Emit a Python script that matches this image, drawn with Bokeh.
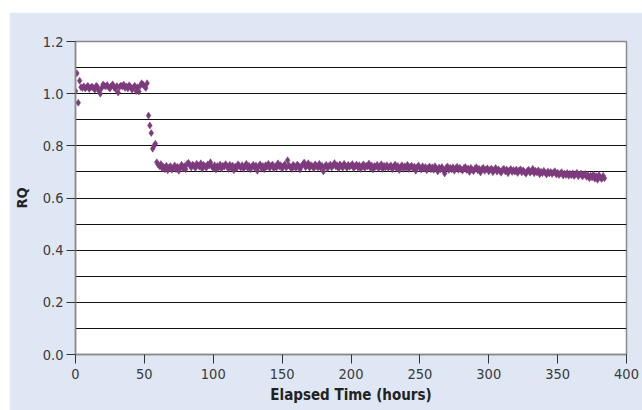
from bokeh.plotting import figure
from bokeh.models import FixedTicker, PrintfTickFormatter, Spacer, ColumnDataSource, Title
from bokeh.layouts import column, row
from bokeh.embed import file_html
from bokeh.resources import INLINE

# RQ readings, one per elapsed hour (0..384)
rq = [
    1.010, 1.078, 0.965, 1.050, 1.025,
    1.022, 1.028, 1.020, 1.025, 1.030, 1.018, 1.024, 1.027, 1.021, 1.015,
    1.030, 1.026, 1.010, 1.000, 1.022, 1.035, 1.030, 1.028, 1.033, 1.025,
    1.020, 1.030, 1.036, 1.024, 1.018, 1.029, 1.004, 1.026, 1.031, 1.027,
    1.035, 1.022, 1.028, 1.020, 1.032, 1.026, 1.015, 1.024, 1.030, 1.010,
    1.025, 1.008, 1.030, 1.040, 1.035, 1.028, 1.022, 1.040,
    0.916, 0.878, 0.849, 0.789, 0.800, 0.808,
    0.737, 0.728, 0.722, 0.730, 0.713, 0.720, 0.710, 0.724, 0.706, 0.718,
    0.722, 0.708, 0.716, 0.725, 0.711, 0.720, 0.704, 0.718, 0.727, 0.713,
    0.722, 0.710, 0.730, 0.735, 0.726, 0.717, 0.728, 0.724, 0.715, 0.731,
    0.725, 0.720, 0.733, 0.712, 0.727, 0.722, 0.716, 0.729, 0.724, 0.737,
    0.721, 0.714, 0.726, 0.709, 0.723, 0.717, 0.728, 0.713, 0.724, 0.720,
    0.730, 0.722, 0.711, 0.727, 0.716, 0.725, 0.706, 0.721, 0.714, 0.729,
    0.723, 0.717, 0.726, 0.712, 0.722, 0.731, 0.715, 0.724, 0.710, 0.720,
    0.727, 0.716, 0.725, 0.704, 0.722, 0.729, 0.714, 0.723, 0.710, 0.726,
    0.720, 0.731, 0.715, 0.724, 0.728, 0.713, 0.722, 0.717, 0.733, 0.721,
    0.726, 0.712, 0.723, 0.729, 0.716, 0.745, 0.725, 0.718, 0.711, 0.727,
    0.722, 0.714, 0.728, 0.724, 0.709, 0.721, 0.729, 0.736, 0.718, 0.725,
    0.733, 0.716, 0.726, 0.722, 0.713, 0.729, 0.723, 0.717, 0.731, 0.715,
    0.724, 0.702, 0.720, 0.727, 0.714, 0.723, 0.728, 0.717, 0.725, 0.734,
    0.721, 0.726, 0.713, 0.729, 0.722, 0.716, 0.731, 0.724, 0.715, 0.727,
    0.720, 0.725, 0.730, 0.714, 0.723, 0.728, 0.717, 0.726, 0.711, 0.722,
    0.729, 0.715, 0.724, 0.721, 0.732, 0.716, 0.725, 0.709, 0.723, 0.720,
    0.727, 0.714, 0.722, 0.729, 0.711, 0.724, 0.717, 0.726, 0.715, 0.721,
    0.725, 0.710, 0.720, 0.728, 0.714, 0.723, 0.707, 0.719, 0.726, 0.712,
    0.722, 0.716, 0.727, 0.711, 0.720, 0.724, 0.713, 0.721, 0.704, 0.718,
    0.725, 0.715, 0.709, 0.722, 0.712, 0.719, 0.706, 0.716, 0.721, 0.710,
    0.718, 0.708, 0.722, 0.713, 0.702, 0.717, 0.710, 0.719, 0.706, 0.694,
    0.715, 0.721, 0.707, 0.716, 0.710, 0.718, 0.704, 0.714, 0.720, 0.708,
    0.716, 0.709, 0.705, 0.715, 0.719, 0.707, 0.713, 0.700, 0.716, 0.708,
    0.703, 0.713, 0.718, 0.706, 0.712, 0.698, 0.711, 0.716, 0.704, 0.710,
    0.714, 0.702, 0.709, 0.713, 0.699, 0.708, 0.715, 0.701, 0.710, 0.704,
    0.697, 0.708, 0.712, 0.702, 0.709, 0.695, 0.706, 0.711, 0.700, 0.707,
    0.701, 0.709, 0.696, 0.705, 0.710, 0.698, 0.706, 0.700, 0.693, 0.704,
    0.708, 0.697, 0.703, 0.712, 0.695, 0.704, 0.698, 0.706, 0.691, 0.701,
    0.695, 0.704, 0.697, 0.690, 0.702, 0.694, 0.700, 0.692, 0.698, 0.703,
    0.690, 0.697, 0.688, 0.695, 0.699, 0.686, 0.694, 0.688, 0.696, 0.685,
    0.693, 0.687, 0.695, 0.684, 0.691, 0.697, 0.683, 0.690, 0.694, 0.682,
    0.689, 0.692, 0.681, 0.688, 0.676, 0.686, 0.679, 0.690, 0.674, 0.684,
    0.670, 0.688, 0.678, 0.673, 0.685, 0.676,
]
hours = list(range(len(rq)))

x_ticks = [0, 50, 100, 150, 200, 250, 300, 350, 400]
y_ticks = [0.0, 0.2, 0.4, 0.6, 0.8, 1.0, 1.2]
y_grid = [0.0, 0.1, 0.2, 0.3, 0.4, 0.5, 0.6, 0.7, 0.8, 0.9, 1.0, 1.1, 1.2]

FONT = "DejaVu Sans Condensed, Roboto, sans-serif"
PANEL = "#e0e7f4"

p = figure(width=633, height=398, output_backend="svg", toolbar_location=None,
           x_range=(0, 400), y_range=(0, 1.2),
           min_border_left=66, min_border_right=16, min_border_top=29, min_border_bottom=56)
p.border_fill_color = PANEL
p.background_fill_color = "white"
p.outline_line_color = "#8a8a8a"
p.outline_line_width = 1.5

src = ColumnDataSource(dict(h=hours, rq=rq))
p.scatter("h", "rq", source=src, marker="diamond", size=7,
          fill_color="#7d3a7d", line_color="#7d3a7d", line_width=0.5)

p.xgrid.visible = False
p.ygrid.ticker = FixedTicker(ticks=y_grid)
p.ygrid.grid_line_color = "#111111"
p.ygrid.grid_line_width = 1.2

for ax in (p.xaxis[0], p.yaxis[0]):
    ax.axis_line_color = "#8a8a8a"
    ax.axis_line_width = 1.5
    ax.major_tick_line_color = "#333333"
    ax.major_tick_line_width = 1
    ax.major_tick_out = 9
    ax.major_tick_in = 0
    ax.minor_tick_line_color = None
    ax.major_label_text_font = FONT
    ax.major_label_text_font_size = "14.5px"
    ax.major_label_text_color = "#3a3a3a"
    ax.axis_label_text_font = FONT
    ax.axis_label_text_font_size = "14.5px"
    ax.axis_label_text_font_style = "bold"
    ax.axis_label_text_color = "#222222"

p.xaxis.ticker = FixedTicker(ticks=x_ticks)
p.yaxis.ticker = FixedTicker(ticks=y_ticks)
p.yaxis.formatter = PrintfTickFormatter(format="%.1f")
p.yaxis.axis_label = "RQ"
p.xaxis.major_label_standoff = 5
p.yaxis.major_label_standoff = 3
p.yaxis.axis_label_standoff = 10

xtitle = Title(text="Elapsed Time (hours)", align="center", text_font=FONT,
               text_font_size="15px", text_font_style="bold", text_color="#222222",
               standoff=4)
p.add_layout(xtitle, "below")

layout = row(Spacer(width=9, height=410), column(Spacer(width=633, height=12), p))
open("out.html", "w").write(file_html(layout, INLINE))
